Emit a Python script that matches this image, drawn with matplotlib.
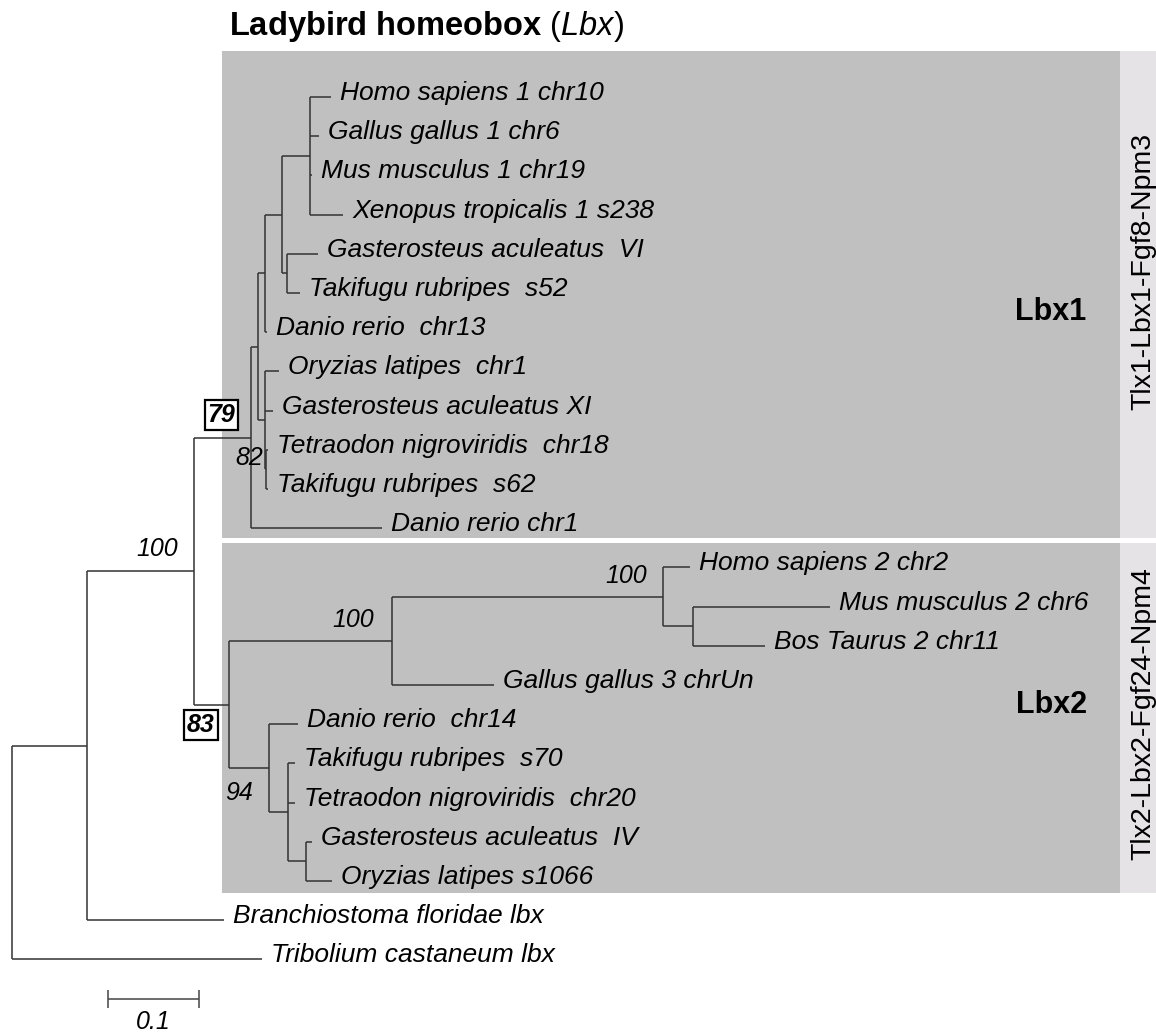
import matplotlib
matplotlib.use('Agg')
import matplotlib.pyplot as plt
from matplotlib.patches import Rectangle

plt.rcParams['font.family'] = ['Liberation Sans', 'DejaVu Sans']
plt.rcParams['mathtext.fontset'] = 'custom'
plt.rcParams['mathtext.rm'] = 'Liberation Sans'
plt.rcParams['mathtext.it'] = 'Liberation Sans:italic'
plt.rcParams['mathtext.bf'] = 'Liberation Sans:bold'

# tree in preorder, children listed top to bottom; branch lengths in subst./site
node = ['root', 'A', 'B', 'L1', 'C', 'E', 'F', 'G', 'Hs1', 'Gg1', 'Mm1', 'Xt1',
        'H', 'Ga6', 'Tr52', 'Dr13', 'D', 'Ol1', 'Ga11', 'D2', 'Tn18', 'Tr62',
        'Dr1', 'L2', 'I', 'J', 'Hs2', 'K', 'Mm2', 'Bt2', 'Gg3', 'P', 'Dr14',
        'M', 'Tr70', 'Tn20', 'O', 'Ga4', 'Ol1066', 'Bfl', 'Tca']
parent = [None, 'root', 'A', 'B', 'L1', 'C', 'E', 'F', 'G', 'G', 'G', 'G',
          'F', 'H', 'H', 'E', 'C', 'D', 'D', 'D', 'D2', 'D2',
          'L1', 'B', 'L2', 'I', 'J', 'J', 'K', 'K', 'I', 'L2', 'P',
          'P', 'M', 'M', 'M', 'O', 'O', 'A', 'root']
blen = [0.0, 0.082, 0.118, 0.063, 0.007, 0.008, 0.019, 0.031, 0.023, 0.009, 0.002, 0.036,
        0.005, 0.034, 0.014, 0.002, 0.008, 0.015, 0.009, 0.001, 0.002, 0.002,
        0.144, 0.038, 0.180, 0.297, 0.030, 0.033, 0.151, 0.079, 0.112, 0.044, 0.032,
        0.021, 0.008, 0.008, 0.020, 0.007, 0.029, 0.151, 0.275]

tips = ['Homo sapiens 1 chr10', 'Gallus gallus 1 chr6', 'Mus musculus 1 chr19',
        'Xenopus tropicalis 1 s238', 'Gasterosteus aculeatus  VI', 'Takifugu rubripes  s52',
        'Danio rerio  chr13', 'Oryzias latipes  chr1', 'Gasterosteus aculeatus XI',
        'Tetraodon nigroviridis  chr18', 'Takifugu rubripes  s62', 'Danio rerio chr1',
        'Homo sapiens 2 chr2', 'Mus musculus 2 chr6', 'Bos Taurus 2 chr11',
        'Gallus gallus 3 chrUn', 'Danio rerio  chr14', 'Takifugu rubripes  s70',
        'Tetraodon nigroviridis  chr20', 'Gasterosteus aculeatus  IV', 'Oryzias latipes s1066',
        'Branchiostoma floridae lbx', 'Tribolium castaneum lbx']

bs_node = ['B', 'L1', 'D', 'L2', 'I', 'J', 'P']
bs_value = [100, 79, 82, 83, 100, 100, 94]
bs_boxed = ['L1', 'L2']

clades = ['Lbx1', 'Lbx2']
synteny = ['Tlx1-Lbx1-Fgf8-Npm3', 'Tlx2-Lbx2-Fgf24-Npm4']
scale_len = 0.1

# label offsets (points) for the support values
bs_offset = {'B': (-11.5, 15.8), 'L1': (-11.5, 16.5), 'D': (-1.5, -27),
             'L2': (-10, -15), 'I': (-13, 15), 'J': (-11.5, 15), 'P': (-11.5, -18)}

# layout of node coordinates
children = {n: [] for n in node}
for n, p in zip(node, parent):
    if p is not None:
        children[p].append(n)
x = {}
for n, p, b in zip(node, parent, blen):
    x[n] = b if p is None else x[p] + b
leaves = [n for n in node if not children[n]]
y = {n: i + 1 for i, n in enumerate(leaves)}
for n in reversed(node):
    if children[n]:
        y[n] = (y[children[n][0]] + y[children[n][-1]]) / 2

fig = plt.figure(figsize=(11.56, 10.32), dpi=100)
ax = fig.add_axes([0, 0, 1, 1])
ax.axis('off')
ax.set_xlim(-0.0132, 1.2571)
ax.set_ylim(24.852, -1.474)

# clade boxes and synteny strips
box_x0, box_x1, strip_x1 = 0.2308, 1.2176, 1.27
for (top, bot), name, syn in zip([(-0.173, 12.25), (12.378, 21.31)], clades, synteny):
    ax.add_patch(Rectangle((box_x0, top), box_x1 - box_x0, bot - top,
                           fc='#c0c0c0', ec='none', zorder=0))
    ax.add_patch(Rectangle((box_x1, top), strip_x1 - box_x1, bot - top,
                           fc='#e5e3e5', ec='none', zorder=0))
ax.text(1.1418, 6.48, clades[0], fontsize=22, fontweight='bold', ha='center', va='center')
ax.text(1.1418, 16.5, clades[1], fontsize=22, fontweight='bold', ha='center', va='center')
ax.text(1.2429, 5.46, synteny[0], fontsize=20.5, rotation=90, ha='center', va='center')
ax.text(1.2429, 16.74, synteny[1], fontsize=20.5, rotation=90, ha='center', va='center')

lc = '#333333'
for n, p in zip(node, parent):
    if p is not None:
        ax.hlines(y[n], x[p], x[n], color=lc, lw=1.1)
    if children[n]:
        ax.vlines(x[n], y[children[n][0]], y[children[n][-1]], color=lc, lw=1.1)

for n, lab in zip(leaves, tips):
    ax.annotate(lab, (x[n], y[n]), xytext=(6.5, -2.2), textcoords='offset points',
                ha='left', va='baseline', style='italic', fontsize=19)

for n, v in zip(bs_node, bs_value):
    kw = dict(style='italic', fontsize=18)
    if n in bs_boxed:
        kw.update(fontweight='bold',
                  bbox=dict(boxstyle='square,pad=0.12', fc='white', ec='black', lw=1.6))
    ax.annotate(str(v), (x[n], y[n]), xytext=bs_offset[n], textcoords='offset points',
                ha='right', va='center', **kw)

# scale bar
sb_x0, sb_y = 0.1055, 24.01
ax.hlines(sb_y, sb_x0, sb_x0 + scale_len, color='#444444', lw=1.1)
ax.vlines([sb_x0, sb_x0 + scale_len], sb_y - 0.22, sb_y + 0.22, color='#444444', lw=1.1)
ax.annotate(str(scale_len), (sb_x0 + scale_len / 2, sb_y), xytext=(0, -16.5),
            textcoords='offset points', ha='center', va='center', style='italic', fontsize=18)

fig.text(229 / 1156, 1 - 27 / 1032, r'$\mathbf{Ladybird\ homeobox}$ ($\mathit{Lbx}$)',
         fontsize=23.5, ha='left', va='center')

fig.savefig('out.png', dpi=100)
